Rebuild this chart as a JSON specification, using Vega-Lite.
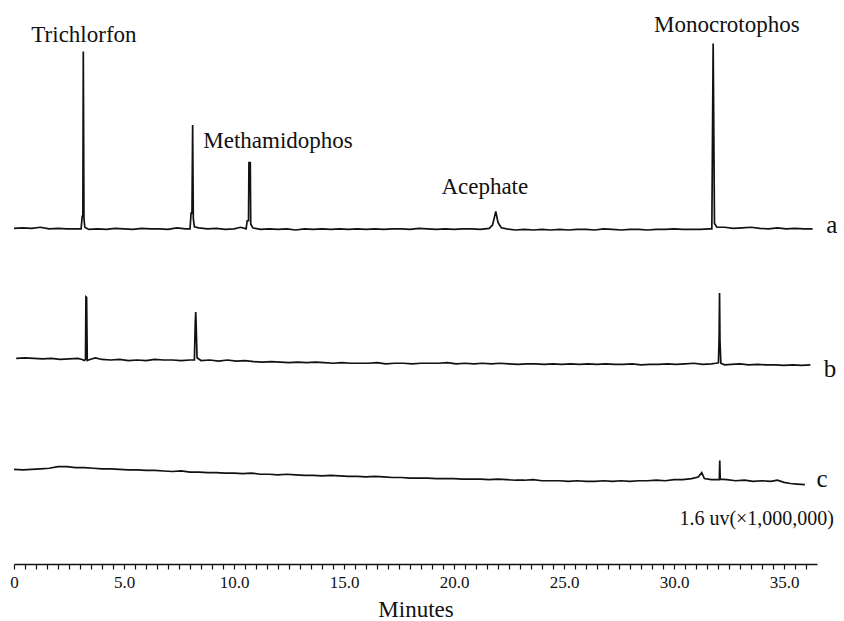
{
  "$schema": "https://vega.github.io/schema/vega-lite/v6.json",
  "width": 803,
  "height": 544,
  "autosize": {"type": "none"},
  "padding": {"left": 14, "top": 20, "right": 27, "bottom": 57},
  "background": "white",
  "config": {"view": {"stroke": null}, "font": "Liberation Serif"},
  "datasets": {
    "traces": [
      {"trace":"a","t":0.0,"s":61.7},{"trace":"a","t":0.4,"s":61.8},{"trace":"a","t":0.8,"s":61.7},{"trace":"a","t":1.2,"s":61.9},{"trace":"a","t":1.6,"s":61.6},{"trace":"a","t":2.0,"s":61.7},{"trace":"a","t":2.4,"s":61.6},{"trace":"a","t":2.8,"s":61.6},{"trace":"a","t":3.05,"s":61.6},{"trace":"a","t":3.1,"s":63.9},{"trace":"a","t":3.13,"s":63.9},{"trace":"a","t":3.15,"s":94.2},{"trace":"a","t":3.18,"s":63.5},{"trace":"a","t":3.22,"s":61.9},{"trace":"a","t":3.4,"s":61.5},{"trace":"a","t":3.8,"s":61.6},{"trace":"a","t":4.2,"s":61.5},{"trace":"a","t":4.6,"s":61.7},{"trace":"a","t":5.0,"s":61.6},{"trace":"a","t":5.4,"s":61.5},{"trace":"a","t":5.8,"s":61.7},{"trace":"a","t":6.2,"s":61.6},{"trace":"a","t":6.6,"s":61.6},{"trace":"a","t":7.0,"s":61.5},{"trace":"a","t":7.4,"s":61.8},{"trace":"a","t":7.8,"s":61.6},{"trace":"a","t":8.0,"s":61.6},{"trace":"a","t":8.05,"s":64.5},{"trace":"a","t":8.09,"s":64.5},{"trace":"a","t":8.12,"s":80.7},{"trace":"a","t":8.15,"s":63.5},{"trace":"a","t":8.2,"s":62.0},{"trace":"a","t":8.4,"s":61.8},{"trace":"a","t":8.8,"s":61.6},{"trace":"a","t":9.2,"s":61.7},{"trace":"a","t":9.6,"s":61.5},{"trace":"a","t":10.0,"s":61.6},{"trace":"a","t":10.3,"s":61.9},{"trace":"a","t":10.55,"s":61.6},{"trace":"a","t":10.6,"s":63.1},{"trace":"a","t":10.66,"s":63.1},{"trace":"a","t":10.68,"s":73.8},{"trace":"a","t":10.74,"s":73.8},{"trace":"a","t":10.76,"s":62.5},{"trace":"a","t":10.85,"s":61.8},{"trace":"a","t":11.2,"s":61.5},{"trace":"a","t":11.6,"s":61.6},{"trace":"a","t":12.0,"s":61.5},{"trace":"a","t":12.4,"s":61.6},{"trace":"a","t":12.8,"s":61.4},{"trace":"a","t":13.2,"s":61.6},{"trace":"a","t":13.6,"s":61.5},{"trace":"a","t":14.0,"s":61.6},{"trace":"a","t":14.4,"s":61.5},{"trace":"a","t":14.8,"s":61.6},{"trace":"a","t":15.2,"s":61.5},{"trace":"a","t":15.6,"s":61.6},{"trace":"a","t":16.0,"s":61.5},{"trace":"a","t":16.4,"s":61.6},{"trace":"a","t":16.8,"s":61.5},{"trace":"a","t":17.2,"s":61.6},{"trace":"a","t":17.6,"s":61.6},{"trace":"a","t":18.0,"s":61.5},{"trace":"a","t":18.4,"s":61.7},{"trace":"a","t":18.8,"s":61.6},{"trace":"a","t":19.2,"s":61.5},{"trace":"a","t":19.6,"s":61.6},{"trace":"a","t":20.0,"s":61.5},{"trace":"a","t":20.4,"s":61.6},{"trace":"a","t":20.8,"s":61.6},{"trace":"a","t":21.2,"s":61.5},{"trace":"a","t":21.6,"s":61.7},{"trace":"a","t":21.75,"s":62.3},{"trace":"a","t":21.9,"s":64.8},{"trace":"a","t":22.0,"s":62.8},{"trace":"a","t":22.15,"s":61.8},{"trace":"a","t":22.4,"s":61.6},{"trace":"a","t":22.8,"s":61.4},{"trace":"a","t":23.2,"s":61.5},{"trace":"a","t":23.6,"s":61.4},{"trace":"a","t":24.0,"s":61.5},{"trace":"a","t":24.4,"s":61.4},{"trace":"a","t":24.8,"s":61.5},{"trace":"a","t":25.2,"s":61.4},{"trace":"a","t":25.6,"s":61.5},{"trace":"a","t":26.0,"s":61.5},{"trace":"a","t":26.4,"s":61.4},{"trace":"a","t":26.8,"s":61.6},{"trace":"a","t":27.2,"s":61.5},{"trace":"a","t":27.6,"s":61.4},{"trace":"a","t":28.0,"s":61.5},{"trace":"a","t":28.4,"s":61.5},{"trace":"a","t":28.8,"s":61.4},{"trace":"a","t":29.2,"s":61.5},{"trace":"a","t":29.6,"s":61.5},{"trace":"a","t":30.0,"s":61.6},{"trace":"a","t":30.4,"s":61.5},{"trace":"a","t":30.8,"s":61.5},{"trace":"a","t":31.2,"s":61.5},{"trace":"a","t":31.6,"s":61.6},{"trace":"a","t":31.72,"s":61.6},{"trace":"a","t":31.78,"s":95.7},{"trace":"a","t":31.84,"s":62.6},{"trace":"a","t":31.95,"s":61.9},{"trace":"a","t":32.3,"s":61.9},{"trace":"a","t":32.7,"s":61.7},{"trace":"a","t":33.1,"s":61.8},{"trace":"a","t":33.5,"s":61.9},{"trace":"a","t":33.9,"s":61.7},{"trace":"a","t":34.3,"s":61.6},{"trace":"a","t":34.7,"s":61.8},{"trace":"a","t":35.1,"s":61.6},{"trace":"a","t":35.5,"s":61.7},{"trace":"a","t":35.9,"s":61.6},{"trace":"a","t":36.3,"s":61.6},

      {"trace":"b","t":0.1,"s":37.8},{"trace":"b","t":0.5,"s":37.9},{"trace":"b","t":0.9,"s":37.8},{"trace":"b","t":1.3,"s":37.7},{"trace":"b","t":1.7,"s":37.8},{"trace":"b","t":2.1,"s":37.6},{"trace":"b","t":2.5,"s":37.7},{"trace":"b","t":2.9,"s":37.8},{"trace":"b","t":3.1,"s":37.6},{"trace":"b","t":3.2,"s":37.4},{"trace":"b","t":3.25,"s":37.6},{"trace":"b","t":3.27,"s":49.1},{"trace":"b","t":3.3,"s":49.0},{"trace":"b","t":3.33,"s":37.4},{"trace":"b","t":3.45,"s":37.6},{"trace":"b","t":3.7,"s":37.9},{"trace":"b","t":4.0,"s":37.6},{"trace":"b","t":4.4,"s":37.5},{"trace":"b","t":4.8,"s":37.6},{"trace":"b","t":5.2,"s":37.4},{"trace":"b","t":5.6,"s":37.5},{"trace":"b","t":6.0,"s":37.4},{"trace":"b","t":6.4,"s":37.6},{"trace":"b","t":6.8,"s":37.5},{"trace":"b","t":7.2,"s":37.5},{"trace":"b","t":7.6,"s":37.4},{"trace":"b","t":8.0,"s":37.5},{"trace":"b","t":8.2,"s":37.5},{"trace":"b","t":8.24,"s":44.5},{"trace":"b","t":8.26,"s":46.3},{"trace":"b","t":8.28,"s":44.0},{"trace":"b","t":8.32,"s":37.9},{"trace":"b","t":8.5,"s":37.4},{"trace":"b","t":8.9,"s":37.5},{"trace":"b","t":9.3,"s":37.3},{"trace":"b","t":9.7,"s":37.5},{"trace":"b","t":10.1,"s":37.3},{"trace":"b","t":10.5,"s":37.4},{"trace":"b","t":10.9,"s":37.2},{"trace":"b","t":11.3,"s":37.1},{"trace":"b","t":11.7,"s":37.2},{"trace":"b","t":12.1,"s":37.1},{"trace":"b","t":12.5,"s":37.0},{"trace":"b","t":12.9,"s":37.1},{"trace":"b","t":13.3,"s":37.0},{"trace":"b","t":13.7,"s":37.1},{"trace":"b","t":14.1,"s":37.0},{"trace":"b","t":14.5,"s":36.9},{"trace":"b","t":14.9,"s":37.0},{"trace":"b","t":15.3,"s":36.9},{"trace":"b","t":15.7,"s":36.9},{"trace":"b","t":16.1,"s":36.9},{"trace":"b","t":16.5,"s":37.0},{"trace":"b","t":16.9,"s":36.8},{"trace":"b","t":17.3,"s":36.9},{"trace":"b","t":17.7,"s":36.9},{"trace":"b","t":18.1,"s":36.8},{"trace":"b","t":18.5,"s":36.9},{"trace":"b","t":18.9,"s":36.9},{"trace":"b","t":19.3,"s":36.9},{"trace":"b","t":19.7,"s":37.0},{"trace":"b","t":20.1,"s":36.8},{"trace":"b","t":20.5,"s":36.9},{"trace":"b","t":20.9,"s":36.8},{"trace":"b","t":21.3,"s":36.9},{"trace":"b","t":21.7,"s":36.8},{"trace":"b","t":22.1,"s":36.9},{"trace":"b","t":22.5,"s":36.8},{"trace":"b","t":22.9,"s":36.7},{"trace":"b","t":23.3,"s":36.8},{"trace":"b","t":23.7,"s":36.8},{"trace":"b","t":24.1,"s":36.7},{"trace":"b","t":24.5,"s":36.8},{"trace":"b","t":24.9,"s":36.7},{"trace":"b","t":25.3,"s":36.8},{"trace":"b","t":25.7,"s":36.7},{"trace":"b","t":26.1,"s":36.8},{"trace":"b","t":26.5,"s":36.7},{"trace":"b","t":26.9,"s":36.8},{"trace":"b","t":27.3,"s":36.7},{"trace":"b","t":27.7,"s":36.7},{"trace":"b","t":28.1,"s":36.8},{"trace":"b","t":28.5,"s":36.6},{"trace":"b","t":28.9,"s":36.7},{"trace":"b","t":29.3,"s":36.7},{"trace":"b","t":29.7,"s":36.8},{"trace":"b","t":30.1,"s":36.7},{"trace":"b","t":30.5,"s":36.8},{"trace":"b","t":30.9,"s":36.9},{"trace":"b","t":31.3,"s":36.7},{"trace":"b","t":31.7,"s":36.8},{"trace":"b","t":31.9,"s":36.9},{"trace":"b","t":32.02,"s":37.0},{"trace":"b","t":32.05,"s":41.5},{"trace":"b","t":32.07,"s":49.8},{"trace":"b","t":32.09,"s":41.0},{"trace":"b","t":32.13,"s":36.9},{"trace":"b","t":32.3,"s":36.6},{"trace":"b","t":32.6,"s":36.7},{"trace":"b","t":33.0,"s":36.8},{"trace":"b","t":33.4,"s":36.6},{"trace":"b","t":33.8,"s":36.7},{"trace":"b","t":34.2,"s":36.6},{"trace":"b","t":34.6,"s":36.6},{"trace":"b","t":35.0,"s":36.5},{"trace":"b","t":35.4,"s":36.6},{"trace":"b","t":35.8,"s":36.5},{"trace":"b","t":36.2,"s":36.6},

      {"trace":"c","t":0.0,"s":17.4},{"trace":"c","t":0.4,"s":17.3},{"trace":"c","t":0.8,"s":17.4},{"trace":"c","t":1.2,"s":17.5},{"trace":"c","t":1.6,"s":17.6},{"trace":"c","t":2.0,"s":17.9},{"trace":"c","t":2.4,"s":17.9},{"trace":"c","t":2.8,"s":17.7},{"trace":"c","t":3.2,"s":17.7},{"trace":"c","t":3.6,"s":17.6},{"trace":"c","t":4.0,"s":17.5},{"trace":"c","t":4.4,"s":17.5},{"trace":"c","t":4.8,"s":17.4},{"trace":"c","t":5.2,"s":17.3},{"trace":"c","t":5.6,"s":17.3},{"trace":"c","t":6.0,"s":17.2},{"trace":"c","t":6.4,"s":17.2},{"trace":"c","t":6.8,"s":17.1},{"trace":"c","t":7.2,"s":17.0},{"trace":"c","t":7.6,"s":17.1},{"trace":"c","t":8.0,"s":16.9},{"trace":"c","t":8.4,"s":16.9},{"trace":"c","t":8.8,"s":16.8},{"trace":"c","t":9.2,"s":16.8},{"trace":"c","t":9.6,"s":16.7},{"trace":"c","t":10.0,"s":16.7},{"trace":"c","t":10.4,"s":16.6},{"trace":"c","t":10.8,"s":16.7},{"trace":"c","t":11.2,"s":16.5},{"trace":"c","t":11.6,"s":16.5},{"trace":"c","t":12.0,"s":16.4},{"trace":"c","t":12.4,"s":16.5},{"trace":"c","t":12.8,"s":16.4},{"trace":"c","t":13.2,"s":16.3},{"trace":"c","t":13.6,"s":16.3},{"trace":"c","t":14.0,"s":16.2},{"trace":"c","t":14.4,"s":16.3},{"trace":"c","t":14.8,"s":16.2},{"trace":"c","t":15.2,"s":16.1},{"trace":"c","t":15.6,"s":16.1},{"trace":"c","t":16.0,"s":16.0},{"trace":"c","t":16.4,"s":16.1},{"trace":"c","t":16.8,"s":16.0},{"trace":"c","t":17.2,"s":15.9},{"trace":"c","t":17.6,"s":15.9},{"trace":"c","t":18.0,"s":15.8},{"trace":"c","t":18.4,"s":15.8},{"trace":"c","t":18.8,"s":15.8},{"trace":"c","t":19.2,"s":15.7},{"trace":"c","t":19.6,"s":15.7},{"trace":"c","t":20.0,"s":15.7},{"trace":"c","t":20.4,"s":15.6},{"trace":"c","t":20.8,"s":15.6},{"trace":"c","t":21.2,"s":15.6},{"trace":"c","t":21.6,"s":15.5},{"trace":"c","t":22.0,"s":15.6},{"trace":"c","t":22.4,"s":15.5},{"trace":"c","t":22.8,"s":15.4},{"trace":"c","t":23.2,"s":15.4},{"trace":"c","t":23.6,"s":15.5},{"trace":"c","t":24.0,"s":15.3},{"trace":"c","t":24.4,"s":15.3},{"trace":"c","t":24.8,"s":15.3},{"trace":"c","t":25.2,"s":15.2},{"trace":"c","t":25.6,"s":15.3},{"trace":"c","t":26.0,"s":15.2},{"trace":"c","t":26.4,"s":15.2},{"trace":"c","t":26.8,"s":15.3},{"trace":"c","t":27.2,"s":15.2},{"trace":"c","t":27.6,"s":15.3},{"trace":"c","t":28.0,"s":15.2},{"trace":"c","t":28.4,"s":15.3},{"trace":"c","t":28.8,"s":15.3},{"trace":"c","t":29.2,"s":15.4},{"trace":"c","t":29.6,"s":15.3},{"trace":"c","t":30.0,"s":15.5},{"trace":"c","t":30.4,"s":15.5},{"trace":"c","t":30.8,"s":15.7},{"trace":"c","t":31.1,"s":16.0},{"trace":"c","t":31.26,"s":16.8},{"trace":"c","t":31.38,"s":15.7},{"trace":"c","t":31.7,"s":15.5},{"trace":"c","t":32.0,"s":15.5},{"trace":"c","t":32.06,"s":15.5},{"trace":"c","t":32.08,"s":19.0},{"trace":"c","t":32.1,"s":15.6},{"trace":"c","t":32.4,"s":15.5},{"trace":"c","t":32.8,"s":15.3},{"trace":"c","t":33.2,"s":15.4},{"trace":"c","t":33.6,"s":15.2},{"trace":"c","t":34.0,"s":15.3},{"trace":"c","t":34.4,"s":15.2},{"trace":"c","t":34.7,"s":15.4},{"trace":"c","t":35.0,"s":15.0},{"trace":"c","t":35.3,"s":14.8},{"trace":"c","t":35.6,"s":14.7},{"trace":"c","t":35.95,"s":14.6}
    ],
    "peaks": [
      {"label":"Trichlorfon","t":3.18,"s":96.0},
      {"label":"Methamidophos","t":12.0,"s":76.4},
      {"label":"Acephate","t":21.4,"s":68.1},
      {"label":"Monocrotophos","t":32.4,"s":97.85}
    ],
    "letters": [
      {"label":"a","t":37.17,"s":60.85},
      {"label":"b","t":37.09,"s":34.4},
      {"label":"c","t":36.73,"s":14.15}
    ],
    "units": [
      {"label":"1.6 uv(×1,000,000)","t":33.76,"s":7.17}
    ]
  },
  "encoding": {
    "x": {
      "field": "t", "type": "quantitative",
      "scale": {"domain": [0, 36.5], "nice": false, "zero": false},
      "axis": {
        "orient": "bottom",
        "values": [0,0.5,1,1.5,2,2.5,3,3.5,4,4.5,5,5.5,6,6.5,7,7.5,8,8.5,9,9.5,10,10.5,11,11.5,12,12.5,13,13.5,14,14.5,15,15.5,16,16.5,17,17.5,18,18.5,19,19.5,20,20.5,21,21.5,22,22.5,23,23.5,24,24.5,25,25.5,26,26.5,27,27.5,28,28.5,29,29.5,30,30.5,31,31.5,32,32.5,33,33.5,34,34.5,35,35.5,36],
        "labelExpr": "datum.value % 5 === 0 ? (datum.value === 0 ? '0' : format(datum.value, '.1f')) : ''",
        "labelOverlap": false,
        "labelFlush": false,
        "labelFont": "Liberation Serif",
        "labelFontSize": 17,
        "labelColor": "#111111",
        "labelPadding": 5,
        "domainColor": "#111111",
        "domainWidth": 1.6,
        "tickColor": "#111111",
        "tickWidth": 1.2,
        "tickSize": 5,
        "grid": false,
        "title": "Minutes",
        "titleFont": "Liberation Serif",
        "titleFontSize": 23,
        "titleFontWeight": "normal",
        "titleColor": "#111111",
        "titlePadding": 8
      }
    },
    "y": {
      "field": "s", "type": "quantitative",
      "scale": {"domain": [0, 100], "nice": false, "zero": false},
      "axis": null
    }
  },
  "layer": [
    {
      "data": {"name": "traces"},
      "mark": {"type": "line", "color": "#111111", "strokeWidth": 1.7},
      "encoding": {"detail": {"field": "trace"}}
    },
    {
      "data": {"name": "peaks"},
      "mark": {"type": "text", "fontSize": 23, "font": "Liberation Serif", "align": "center", "baseline": "alphabetic", "color": "#111111"},
      "encoding": {"text": {"field": "label"}}
    },
    {
      "data": {"name": "letters"},
      "mark": {"type": "text", "fontSize": 25, "font": "Liberation Serif", "align": "center", "baseline": "alphabetic", "color": "#111111"},
      "encoding": {"text": {"field": "label"}}
    },
    {
      "data": {"name": "units"},
      "mark": {"type": "text", "fontSize": 20, "font": "Liberation Serif", "align": "center", "baseline": "alphabetic", "color": "#111111"},
      "encoding": {"text": {"field": "label"}}
    }
  ]
}
